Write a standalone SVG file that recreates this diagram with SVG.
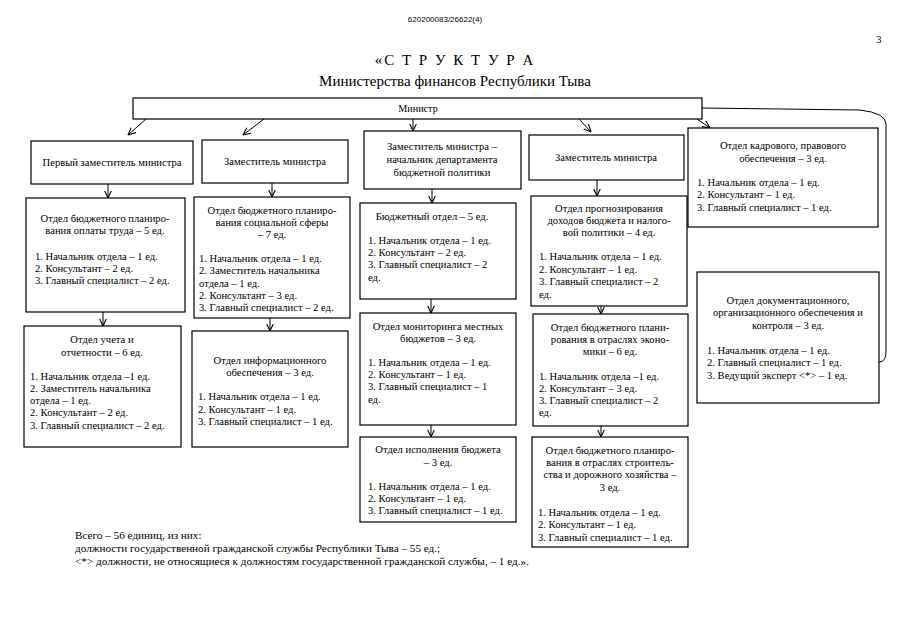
<svg xmlns="http://www.w3.org/2000/svg" width="905" height="640" viewBox="0 0 905 640">
<defs>
<style>
.box{fill:#fff;stroke:#000;stroke-width:1.2}
.t{font-family:"Liberation Serif",serif;font-size:10.6px;fill:#000}
.c{text-anchor:middle}
.ln{fill:none;stroke:#000;stroke-width:1}
</style>
<marker id="ah" viewBox="0 0 8 8" refX="7.5" refY="4" markerWidth="8" markerHeight="8" markerUnits="userSpaceOnUse" orient="auto">
<path d="M0,0.5 L7.5,4 L0,7.5" fill="none" stroke="#000" stroke-width="1.1"/>
</marker>
</defs>
<rect width="905" height="640" fill="#fff"/>
<text x="445" y="22" style="font-family:'Liberation Sans',sans-serif;font-size:8px" class="c">620200083/26622(4)</text>
<text x="876" y="43" class="t" style="font-size:11px">3</text>
<text x="455" y="65" class="t c" style="font-size:15px;letter-spacing:2px">«С Т Р У К Т У Р А</text>
<text x="455" y="86" class="t c" style="font-size:15px">Министерства финансов Республики Тыва</text>

<g id="connectors">
<path class="ln" d="M702,108 L860,110 Q886,113 886,124 L886,352 Q886,362 879,362"/>
<line class="ln" x1="146" y1="119" x2="128" y2="135" marker-end="url(#ah)"/>
<line class="ln" x1="264" y1="119" x2="243" y2="135" marker-end="url(#ah)"/>
<line class="ln" x1="413" y1="119" x2="413" y2="131" marker-end="url(#ah)"/>
<line class="ln" x1="579" y1="119" x2="591" y2="132" marker-end="url(#ah)"/>
<line class="ln" x1="697" y1="119" x2="710" y2="128" marker-end="url(#ah)"/>
<line class="ln" x1="108" y1="184" x2="108" y2="198" marker-end="url(#ah)"/>
<line class="ln" x1="272" y1="183" x2="272" y2="197" marker-end="url(#ah)"/>
<line class="ln" x1="432" y1="189" x2="432" y2="203" marker-end="url(#ah)"/>
<line class="ln" x1="597" y1="180" x2="597" y2="196" marker-end="url(#ah)"/>
<line class="ln" x1="103" y1="312" x2="103" y2="326" marker-end="url(#ah)"/>
<line class="ln" x1="270" y1="318" x2="270" y2="331" marker-end="url(#ah)"/>
<line class="ln" x1="431" y1="299" x2="431" y2="313" marker-end="url(#ah)"/>
<line class="ln" x1="601" y1="306" x2="601" y2="314" marker-end="url(#ah)"/>
<line class="ln" x1="431" y1="425" x2="431" y2="437" marker-end="url(#ah)"/>
<line class="ln" x1="601" y1="426" x2="601" y2="437" marker-end="url(#ah)"/>
</g>

<g id="minister">
<rect class="box" x="133" y="98" width="569" height="21"/>
<text x="418" y="112" class="t c" style="font-size:10.2px">Министр</text>
</g>

<g id="first-deputy">
<rect class="box" x="31" y="141" width="162" height="43"/>
<text x="112" y="166" class="t c">Первый заместитель министра</text>
</g>

<g id="deputy-1">
<rect class="box" x="202" y="140" width="146" height="43"/>
<text x="275" y="165" class="t c">Заместитель министра</text>
</g>

<g id="deputy-budget-policy">
<rect class="box" x="364" y="131" width="157" height="58"/>
<text class="t c"><tspan x="442" y="150">Заместитель министра –</tspan><tspan x="442" y="163">начальник департамента</tspan><tspan x="442" y="176">бюджетной политики</tspan></text>
</g>

<g id="deputy-2">
<rect class="box" x="529" y="135" width="155" height="45"/>
<text x="606" y="161" class="t c">Заместитель министра</text>
</g>

<g id="hr-legal">
<rect class="box" x="688" y="128" width="190" height="99"/>
<text class="t"><tspan x="783" y="149" class="c">Отдел кадрового, правового</tspan><tspan x="783" y="162" class="c">обеспечения – 3 ед.</tspan><tspan x="697" y="186">1. Начальник отдела – 1 ед.</tspan><tspan x="697" y="198">2. Консультант – 1 ед.</tspan><tspan x="697" y="211">3. Главный специалист – 1 ед.</tspan></text>
</g>

<g id="payroll-planning">
<rect class="box" x="26" y="198" width="159" height="114"/>
<text class="t"><tspan x="105" y="222" class="c">Отдел бюджетного планиро-</tspan><tspan x="105" y="234" class="c">вания оплаты труда  – 5 ед.</tspan><tspan x="35" y="260">1. Начальник отдела – 1 ед.</tspan><tspan x="35" y="272">2. Консультант – 2 ед.</tspan><tspan x="35" y="284">3. Главный специалист – 2 ед.</tspan></text>
</g>

<g id="social-planning">
<rect class="box" x="194" y="197" width="156" height="121"/>
<text class="t"><tspan x="272" y="214" class="c">Отдел бюджетного планиро-</tspan><tspan x="272" y="226" class="c">вания социальной сферы</tspan><tspan x="272" y="238" class="c">– 7 ед.</tspan><tspan x="199" y="262">1. Начальник отдела – 1 ед.</tspan><tspan x="199" y="274">2. Заместитель начальника</tspan><tspan x="199" y="287">отдела – 1 ед.</tspan><tspan x="199" y="299">2. Консультант – 3 ед.</tspan><tspan x="199" y="311">3. Главный специалист – 2 ед.</tspan></text>
</g>

<g id="budget-dept">
<rect class="box" x="360" y="203" width="156" height="96"/>
<text class="t"><tspan x="432" y="220" class="c">Бюджетный отдел – 5 ед.</tspan><tspan x="368" y="244">1. Начальник отдела – 1 ед.</tspan><tspan x="368" y="256">2. Консультант – 2 ед.</tspan><tspan x="368" y="268">3. Главный специалист – 2</tspan><tspan x="368" y="281">ед.</tspan></text>
</g>

<g id="revenue-forecast">
<rect class="box" x="531" y="196" width="156" height="110"/>
<text class="t"><tspan x="609" y="212" class="c">Отдел прогнозирования</tspan><tspan x="609" y="224" class="c">доходов бюджета и налого-</tspan><tspan x="609" y="236" class="c">вой политики – 4 ед.</tspan><tspan x="539" y="260">1. Начальник отдела – 1 ед.</tspan><tspan x="539" y="273">2. Консультант – 1 ед.</tspan><tspan x="539" y="285">3. Главный специалист – 2</tspan><tspan x="539" y="298">ед.</tspan></text>
</g>

<g id="documentation">
<rect class="box" x="697" y="272" width="182" height="131"/>
<text class="t"><tspan x="788" y="304" class="c">Отдел документационного,</tspan><tspan x="788" y="316" class="c">организационного обеспечения и</tspan><tspan x="788" y="329" class="c">контроля – 3 ед.</tspan><tspan x="707" y="354">1. Начальник отдела – 1 ед.</tspan><tspan x="707" y="366">2. Главный специалист – 1 ед.</tspan><tspan x="707" y="379">3. Ведущий эксперт &lt;*&gt; – 1 ед.</tspan></text>
</g>

<g id="accounting">
<rect class="box" x="24" y="326" width="157" height="121"/>
<text class="t"><tspan x="102" y="343" class="c">Отдел учета и</tspan><tspan x="102" y="356" class="c">отчетности – 6 ед.</tspan><tspan x="30" y="380">1. Начальник отдела –1 ед.</tspan><tspan x="30" y="392">2. Заместитель начальника</tspan><tspan x="30" y="404">отдела – 1 ед.</tspan><tspan x="30" y="416">2. Консультант – 2 ед.</tspan><tspan x="30" y="429">3. Главный специалист – 2 ед.</tspan></text>
</g>

<g id="information">
<rect class="box" x="192" y="331" width="156" height="116"/>
<text class="t"><tspan x="270" y="364" class="c">Отдел информационного</tspan><tspan x="270" y="376" class="c">обеспечения – 3 ед.</tspan><tspan x="198" y="400">1. Начальник отдела – 1 ед.</tspan><tspan x="198" y="413">2. Консультант – 1 ед.</tspan><tspan x="198" y="425">3. Главный специалист – 1 ед.</tspan></text>
</g>

<g id="local-budgets">
<rect class="box" x="360" y="313" width="156" height="112"/>
<text class="t"><tspan x="438" y="330" class="c">Отдел мониторинга местных</tspan><tspan x="438" y="342" class="c">бюджетов – 3 ед.</tspan><tspan x="368" y="366">1. Начальник отдела – 1 ед.</tspan><tspan x="368" y="378">2. Консультант – 1 ед.</tspan><tspan x="368" y="390">3. Главный специалист – 1</tspan><tspan x="368" y="403">ед.</tspan></text>
</g>

<g id="economy-planning">
<rect class="box" x="533" y="314" width="155" height="112"/>
<text class="t"><tspan x="610" y="331" class="c">Отдел бюджетного плани-</tspan><tspan x="610" y="343" class="c">рования в отраслях эконо-</tspan><tspan x="610" y="355" class="c">мики – 6 ед.</tspan><tspan x="539" y="380">1. Начальник отдела –1 ед.</tspan><tspan x="539" y="392">2. Консультант – 3 ед.</tspan><tspan x="539" y="404">3. Главный специалист – 2</tspan><tspan x="539" y="416">ед.</tspan></text>
</g>

<g id="budget-execution">
<rect class="box" x="360" y="437" width="156" height="85"/>
<text class="t"><tspan x="438" y="453" class="c">Отдел исполнения бюджета</tspan><tspan x="438" y="466" class="c">– 3 ед.</tspan><tspan x="368" y="490">1. Начальник отдела – 1 ед.</tspan><tspan x="368" y="502">2. Консультант – 1 ед.</tspan><tspan x="368" y="514">3. Главный специалист – 1 ед.</tspan></text>
</g>

<g id="construction-planning">
<rect class="box" x="532" y="437" width="156" height="110"/>
<text class="t"><tspan x="610" y="454" class="c">Отдел бюджетного планиро-</tspan><tspan x="610" y="466" class="c">вания в отраслях строитель-</tspan><tspan x="610" y="478" class="c">ства и дорожного хозяйства –</tspan><tspan x="610" y="491" class="c">3 ед.</tspan><tspan x="538" y="516">1. Начальник отдела – 1 ед.</tspan><tspan x="538" y="528">2. Консультант – 1 ед.</tspan><tspan x="538" y="541">3. Главный специалист – 1 ед.</tspan></text>
</g>

<text class="t" style="font-size:11.2px"><tspan x="75" y="539">Всего – 56 единиц, из них:</tspan><tspan x="75" y="552">должности государственной гражданской службы Республики Тыва – 55 ед.;</tspan><tspan x="75" y="565">&lt;*&gt; должности, не относящиеся к должностям государственной гражданской службы, – 1 ед.».</tspan></text>
</svg>
